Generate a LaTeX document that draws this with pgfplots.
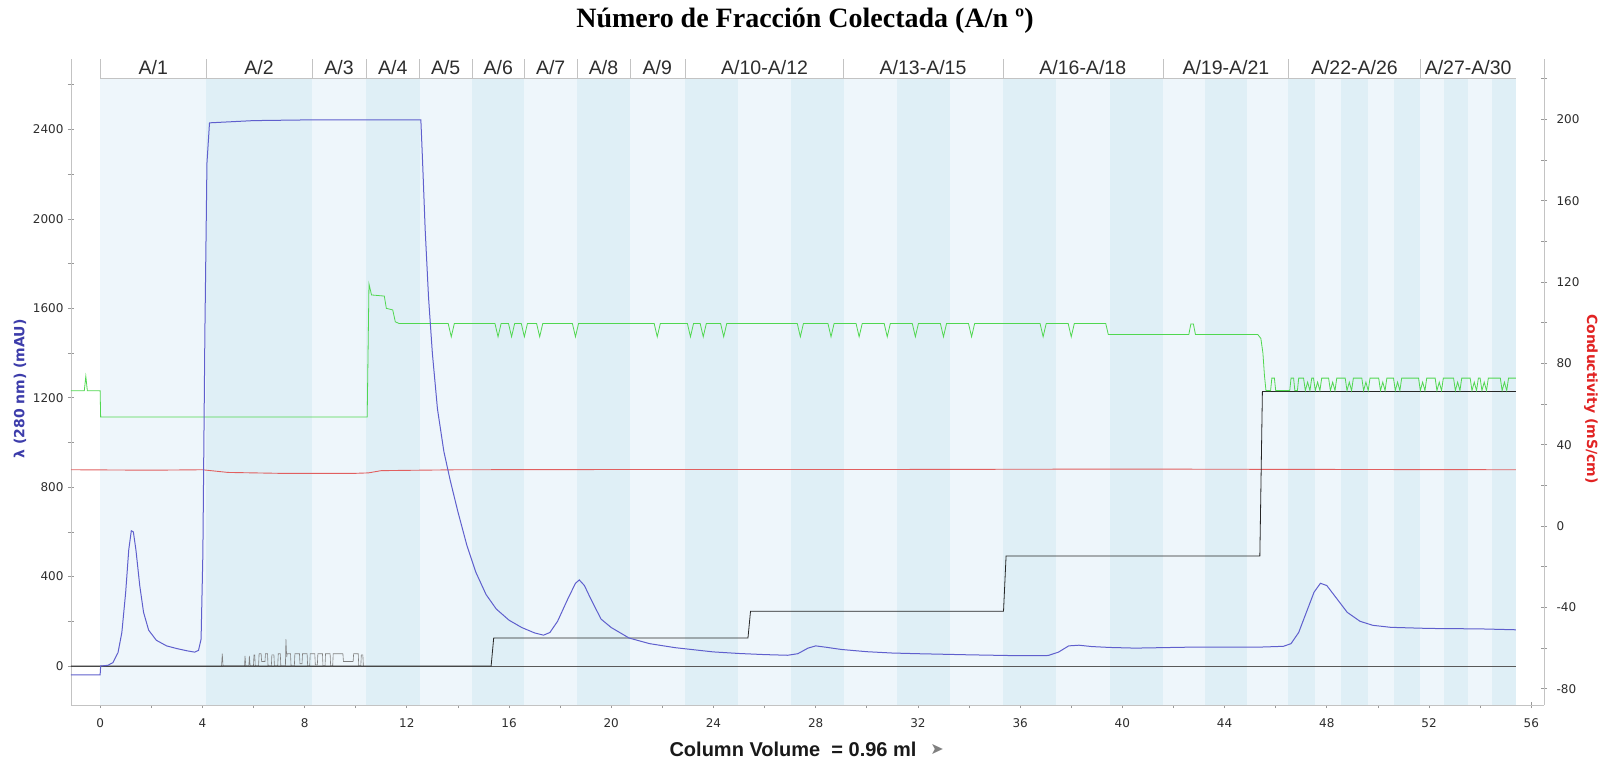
\documentclass[border=0pt]{standalone}
\usepackage{fontspec}
\setmainfont{Liberation Sans}
\newfontfamily\dejavu{DejaVu Sans}
\newfontfamily\tnr{Liberation Serif}
\usepackage{pgfplots}
\pgfplotsset{compat=1.18}
\definecolor{uvblue}{RGB}{95,95,205}
\definecolor{cgreen}{RGB}{80,215,80}
\definecolor{cred}{RGB}{225,95,95}
\definecolor{bandL}{RGB}{238,246,251}
\definecolor{bandD}{RGB}{223,239,246}
\definecolor{axgray}{RGB}{195,195,195}
\definecolor{lblue}{RGB}{60,60,170}
\definecolor{rred}{RGB}{225,35,35}
\definecolor{tickc}{RGB}{45,45,45}
\pgfplotsset{
  every tick label/.append style={font=\dejavu\fontsize{12}{14}\selectfont, text=tickc},
  /pgf/number format/assume math mode=true,
  /pgf/number format/1000 sep={},
}
\begin{document}
\begin{tikzpicture}
\useasboundingbox (-71pt,-53pt) rectangle (1543pt,705pt);
\begin{axis}[
  at={(0,0)}, anchor=south west,
  scale only axis, width=1473pt, height=646.3pt,
  xmin=-1.14, xmax=56.5, ymin=-174.5, ymax=2717,
  axis x line*=bottom, axis y line*=left,
  axis line style={draw=axgray, line width=0.8pt, -},
  xtick={0,4,...,56}, minor xtick={2,6,...,54},
  ytick={0,400,...,2400}, minor ytick={200,600,...,2600},
  tick align=center, major tick length=6pt, minor tick length=6pt,
  tick style={draw=gray!80, line width=0.7pt},
  yticklabel shift=1pt, xticklabel shift=7pt,
  clip=false,
]
% fraction bands
\fill[bandL] (axis cs:0,-174.5) rectangle (axis cs:4.15,2631);
\fill[bandD] (axis cs:4.15,-174.5) rectangle (axis cs:8.3,2631);
\fill[bandL] (axis cs:8.3,-174.5) rectangle (axis cs:10.4,2631);
\fill[bandD] (axis cs:10.4,-174.5) rectangle (axis cs:12.5,2631);
\fill[bandL] (axis cs:12.5,-174.5) rectangle (axis cs:14.55,2631);
\fill[bandD] (axis cs:14.55,-174.5) rectangle (axis cs:16.6,2631);
\fill[bandL] (axis cs:16.6,-174.5) rectangle (axis cs:18.67,2631);
\fill[bandD] (axis cs:18.67,-174.5) rectangle (axis cs:20.75,2631);
\fill[bandL] (axis cs:20.75,-174.5) rectangle (axis cs:22.9,2631);
\fill[bandD] (axis cs:22.9,-174.5) rectangle (axis cs:24.97,2631);
\fill[bandL] (axis cs:24.97,-174.5) rectangle (axis cs:27.03,2631);
\fill[bandD] (axis cs:27.03,-174.5) rectangle (axis cs:29.1,2631);
\fill[bandL] (axis cs:29.1,-174.5) rectangle (axis cs:31.18,2631);
\fill[bandD] (axis cs:31.18,-174.5) rectangle (axis cs:33.25,2631);
\fill[bandL] (axis cs:33.25,-174.5) rectangle (axis cs:35.33,2631);
\fill[bandD] (axis cs:35.33,-174.5) rectangle (axis cs:37.42,2631);
\fill[bandL] (axis cs:37.42,-174.5) rectangle (axis cs:39.5,2631);
\fill[bandD] (axis cs:39.5,-174.5) rectangle (axis cs:41.6,2631);
\fill[bandL] (axis cs:41.6,-174.5) rectangle (axis cs:43.23,2631);
\fill[bandD] (axis cs:43.23,-174.5) rectangle (axis cs:44.87,2631);
\fill[bandL] (axis cs:44.87,-174.5) rectangle (axis cs:46.5,2631);
\fill[bandD] (axis cs:46.5,-174.5) rectangle (axis cs:47.53,2631);
\fill[bandL] (axis cs:47.53,-174.5) rectangle (axis cs:48.56,2631);
\fill[bandD] (axis cs:48.56,-174.5) rectangle (axis cs:49.6,2631);
\fill[bandL] (axis cs:49.6,-174.5) rectangle (axis cs:50.63,2631);
\fill[bandD] (axis cs:50.63,-174.5) rectangle (axis cs:51.66,2631);
\fill[bandL] (axis cs:51.66,-174.5) rectangle (axis cs:52.6,2631);
\fill[bandD] (axis cs:52.6,-174.5) rectangle (axis cs:53.53,2631);
\fill[bandL] (axis cs:53.53,-174.5) rectangle (axis cs:54.47,2631);
\fill[bandD] (axis cs:54.47,-174.5) rectangle (axis cs:55.4,2631);
% header
\draw[axgray, line width=0.8pt] (axis cs:0,2631) -- (axis cs:55.4,2631);
\pgfplotsinvokeforeach{0,4.15,8.3,10.4,12.5,14.55,16.6,18.67,20.75,22.9,29.1,35.33,41.6,46.5,51.66}{
  \draw[axgray, line width=0.8pt] (axis cs:#1,2631) -- (axis cs:#1,2717);
}
\begin{scope}[every node/.style={font=\fontsize{19.5}{21}\selectfont, text=tickc}]
\node at (axis cs:2.08,2676) {A/1};
\node at (axis cs:6.22,2676) {A/2};
\node at (axis cs:9.35,2676) {A/3};
\node at (axis cs:11.45,2676) {A/4};
\node at (axis cs:13.52,2676) {A/5};
\node at (axis cs:15.58,2676) {A/6};
\node at (axis cs:17.63,2676) {A/7};
\node at (axis cs:19.7,2676) {A/8};
\node at (axis cs:21.8,2676) {A/9};
\node at (axis cs:26.0,2676) {A/10-A/12};
\node at (axis cs:32.2,2676) {A/13-A/15};
\node at (axis cs:38.45,2676) {A/16-A/18};
\node at (axis cs:44.05,2676) {A/19-A/21};
\node at (axis cs:49.08,2676) {A/22-A/26};
\node at (axis cs:53.53,2676) {A/27-A/30};
\end{scope}
% grey baseline and noise
\addplot[gray!70!black, line width=0.7pt] coordinates {(-1.14,0) (55.4,0)};
\addplot[gray, line width=0.6pt] coordinates {
(4.75,0)(4.78,55)(4.81,0)(5.65,0)(5.67,45)(5.7,0)(5.82,0)(5.84,45)(5.87,0)(6.0,0)(6.02,50)(6.05,50)(6.07,0)
(6.2,0)(6.22,55)(6.3,55)(6.32,20)(6.45,20)(6.47,55)(6.55,55)(6.57,0)(6.7,0)(6.72,50)(6.8,50)(6.82,0)
(6.95,0)(6.97,55)(7.05,55)(7.07,0)(7.25,0)(7.27,120)(7.3,40)(7.32,55)(7.45,55)(7.47,0)(7.6,0)(7.62,55)
(7.8,55)(7.82,10)(7.9,10)(7.92,55)(8.1,55)(8.12,0)(8.2,0)(8.22,55)(8.4,55)(8.42,5)(8.5,5)(8.52,55)
(8.7,55)(8.72,0)(8.8,0)(8.82,55)(9.0,55)(9.02,0)(9.1,0)(9.12,55)(9.5,55)(9.52,20)(9.9,20)(9.92,55)
(10.1,55)(10.12,0)(10.2,0)(10.22,50)(10.28,50)(10.3,0)};
% red (conductivity)
\addplot[cred, line width=0.9pt] coordinates {
(-1.14,878)(2,876)(4,878)(5,866)(7,862)(10,862)(10.5,864)(11,874)(14,878)(20,879)(30,879)(40,881)(50,879)(55.4,878)};
% black
\addplot[black!85, line width=0.8pt] coordinates {
(-1.14,0)(15.3,0)(15.4,125)(25.35,125)(25.45,245)(35.35,245)(35.45,492)(45.38,492)(45.48,1228)(55.4,1228)};
% green
\addplot[cgreen, line width=0.8pt] coordinates {
(-1.14,1231)(-0.62,1231)(-0.56,1296)(-0.5,1231)(0,1231)(0.02,1114)(10.45,1114)(10.52,1709)(10.62,1660)(11.12,1655)
(11.2,1600)(11.45,1593)(11.55,1540)(11.7,1532)
(13.62,1532)(13.74,1473)(13.86,1532)
(15.45,1532)(15.57,1473)(15.69,1532)(15.98,1532)(16.1,1473)(16.22,1532)
(16.48,1532)(16.6,1473)(16.72,1532)(17.08,1532)(17.2,1473)(17.32,1532)
(18.48,1532)(18.6,1473)(18.72,1532)
(21.68,1532)(21.8,1473)(21.92,1532)
(22.98,1532)(23.1,1473)(23.22,1532)(23.48,1532)(23.6,1473)(23.72,1532)
(24.28,1532)(24.4,1473)(24.52,1532)
(27.28,1532)(27.4,1473)(27.52,1532)(28.48,1532)(28.6,1473)(28.72,1532)
(29.58,1532)(29.7,1473)(29.82,1532)(30.68,1532)(30.8,1473)(30.92,1532)
(31.78,1532)(31.9,1473)(32.02,1532)(32.88,1532)(33.0,1473)(33.12,1532)
(33.98,1532)(34.1,1473)(34.22,1532)
(36.78,1532)(36.9,1473)(37.02,1532)(37.88,1532)(38.0,1473)(38.12,1532)
(39.35,1532)(39.45,1483)(42.6,1483)(42.68,1530)(42.78,1530)(42.86,1483)
(45.3,1483)(45.42,1465)(45.5,1400)(45.56,1300)(45.62,1232)
(45.8,1232)(45.85,1288)(45.95,1288)(46.0,1232)(46.55,1232)(46.6,1288)(46.7,1288)(46.75,1232)(46.85,1232)(46.9,1288)
(47.09,1288)(47.16,1232)(47.25,1270)(47.34,1232)(47.41,1288)
(47.48,1288)(47.55,1232)(47.64,1270)(47.73,1232)(47.8,1288)
(48.07,1288)(48.14,1232)(48.23,1270)(48.32,1232)(48.39,1288)
(48.72,1288)(48.79,1232)(48.88,1270)(48.97,1232)(49.04,1288)
(49.37,1288)(49.44,1232)(49.53,1270)(49.62,1232)(49.69,1288)
(50.03,1288)(50.1,1232)(50.19,1270)(50.28,1232)(50.35,1288)
(50.61,1288)(50.68,1232)(50.77,1270)(50.86,1232)(50.93,1288)
(51.59,1288)(51.66,1232)(51.75,1270)(51.84,1232)(51.91,1288)
(52.24,1288)(52.31,1232)(52.4,1270)(52.49,1232)(52.56,1288)
(52.96,1288)(53.03,1232)(53.12,1270)(53.21,1232)(53.28,1288)
(53.61,1288)(53.68,1232)(53.77,1270)(53.86,1232)(53.93,1288)
(54.0,1288)(54.07,1232)(54.16,1270)(54.25,1232)(54.32,1288)
(54.79,1288)(54.86,1232)(54.95,1270)(55.04,1232)(55.11,1288)(55.4,1288)};
% blue UV
\addplot[uvblue, line width=1pt] coordinates {
(-1.14,-40)(0,-40)(0.02,0)(0.3,3)(0.5,15)(0.7,60)(0.85,150)(1.0,330)(1.12,520)(1.22,605)(1.3,600)(1.4,520)
(1.55,360)(1.7,240)(1.9,160)(2.2,115)(2.6,90)(3.0,78)(3.4,68)(3.7,62)(3.85,70)(3.95,120)(4.02,500)(4.1,1500)
(4.18,2250)(4.28,2430)(6,2440)(8,2443)(10,2443)(12.55,2443)(12.62,2250)(12.72,1950)(12.85,1650)(13.0,1400)
(13.2,1150)(13.45,960)(13.7,830)(14.0,690)(14.35,540)(14.7,420)(15.1,320)(15.5,255)(16.0,205)(16.5,172)(17.0,148)
(17.35,138)(17.6,150)(17.9,200)(18.3,300)(18.6,370)(18.75,385)(18.95,360)(19.2,300)(19.6,210)(20.0,172)
(20.7,125)(21.5,100)(22.5,82)(24.0,63)(25,56)(26,51)(26.9,48)(27.3,55)(27.7,80)(28.0,90)(28.4,84)(29,74)
(30,64)(31,58)(32,55)(34,50)(36,46)(37.1,47)(37.5,62)(37.9,90)(38.3,93)(38.8,87)(39.5,83)(40.5,80)(41.5,82)
(42.5,84)(44,84)(45.5,85)(46.3,88)(46.6,100)(46.9,150)(47.2,240)(47.5,330)(47.75,370)(48.0,360)(48.4,300)
(48.8,240)(49.3,200)(49.8,182)(50.5,173)(52,168)(54,166)(55.4,162)};
\end{axis}
\begin{axis}[
  at={(0,0)}, anchor=south west,
  scale only axis, width=1473pt, height=646.3pt,
  xmin=-1.14, xmax=56.5, ymin=-88.0, ymax=229.9,
  axis x line=none, axis y line*=right,
  axis line style={draw=axgray, line width=0.8pt, -},
  ytick={-80,-40,...,200}, minor ytick={-60,-20,...,220},
  tick align=center, major tick length=6pt, minor tick length=6pt,
  tick style={draw=gray!80, line width=0.7pt},
  yticklabel shift=6pt,
]
\addplot[draw=none] coordinates {(0,0)};
\end{axis}
\node[font=\tnr\bfseries\fontsize{28}{32}\selectfont] at (734pt,684pt) {Número de Fracción Colectada (A/n º)};
\node[rotate=90, font=\dejavu\bfseries\fontsize{14}{16}\selectfont, text=lblue] at (-51pt,316pt) {λ (280 nm) (mAU)};
\node[rotate=-90, font=\dejavu\bfseries\fontsize{14}{16}\selectfont, text=rred] at (1520pt,306pt) {Conductivity (mS/cm)};
\node[font=\bfseries\fontsize{20}{22}\selectfont, text=black!90] at (722pt,-44pt) {Column Volume\ \ = 0.96 ml};
\node[font=\dejavu\fontsize{16}{18}\selectfont, text=gray] at (866pt,-44pt) {➤};
\end{tikzpicture}
\end{document}
